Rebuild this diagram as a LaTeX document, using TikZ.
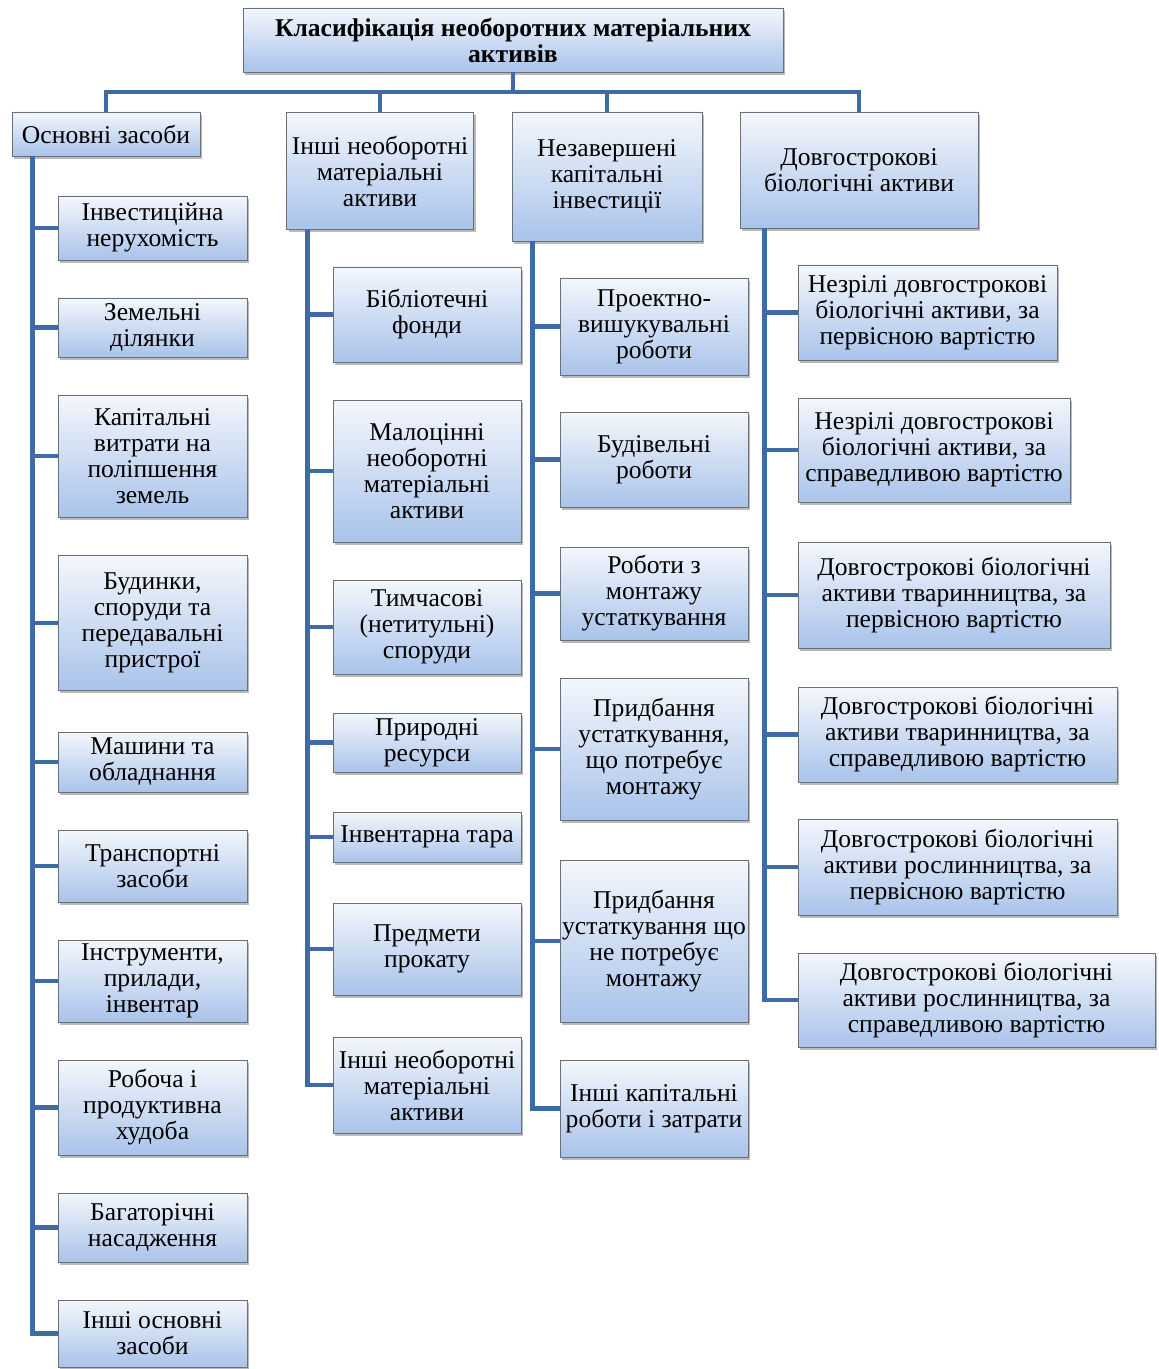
\documentclass[tikz,border=0pt]{standalone}
\usepackage{fontspec}
\setmainfont{Liberation Serif}
\usetikzlibrary{shadows}
\definecolor{linkblue}{HTML}{3E6AA6}
\definecolor{boxtop}{HTML}{F4F7FC}
\definecolor{boxbottom}{HTML}{A9C3EA}
\definecolor{boxline}{HTML}{6B6F78}

\begin{document}
\begin{tikzpicture}[
  x=0.75pt, y=-0.75pt,
  font=\fontsize{19.2}{19.5}\selectfont,
  box/.style={draw=boxline, line width=0.6pt, top color=boxtop, bottom color=boxbottom,
    align=center, inner sep=1pt,
    drop shadow={shadow xshift=1.5pt, shadow yshift=-2pt, fill=black!45, opacity=0.6}},
  boxw/.style={minimum width=#1*0.75pt},
  boxh/.style={minimum height=#1*0.75pt},
  fixitem/.style={box, boxw=189},
  matitem/.style={box, boxw=188},
  invitem/.style={box, boxw=188},
  bioitem/.style={box},
  link/.style={draw=linkblue, line width=3.6pt}
]
\useasboundingbox (0,0) rectangle (1158,1369);

% Title and the four groups.
\node[box, boxw=540, boxh=64, font=\fontsize{19.2}{19.5}\selectfont\bfseries] (title) at (513,40)
  {Класифікація необоротних матеріальних\\активів};
\node[box, boxw=188, boxh=44] (fixed) at (106,134) {Основні засоби};
\node[box, boxw=187, boxh=117] (othermat) at (380,171) {Інші необоротні\\матеріальні\\активи};
\node[box, boxw=190, boxh=129] (capinv) at (607,176.5) {Незавершені\\капітальні\\інвестиції};
\node[box, boxw=238, boxh=116] (bio) at (859,170) {Довгострокові\\біологічні активи};

\coordinate (bus) at (510,92);
\draw[link] (title.south) -- (title.south |- bus);
\draw[link] (fixed.north) |- (bus) -| (bio.north);
\draw[link] (othermat.north) -- (othermat.north |- bus);
\draw[link] (capinv.north) -- (capinv.north |- bus);

% Основні засоби
\node[fixitem, boxh=64] (fx1) at (152.5,228) {Інвестиційна\\нерухомість};
\node[fixitem, boxh=59] (fx2) at (152.5,327.5) {Земельні\\ділянки};
\node[fixitem, boxh=122] (fx3) at (152.5,456) {Капітальні\\витрати на\\поліпшення\\земель};
\node[fixitem, boxh=135] (fx4) at (152.5,623) {Будинки,\\споруди та\\передавальні\\пристрої};
\node[fixitem, boxh=60] (fx5) at (152.5,762) {Машини та\\обладнання};
\node[fixitem, boxh=72] (fx6) at (152.5,866) {Транспортні\\засоби};
\node[fixitem, boxh=82] (fx7) at (152.5,981) {Інструменти,\\прилади,\\інвентар};
\node[fixitem, boxh=95] (fx8) at (152.5,1107.5) {Робоча і\\продуктивна\\худоба};
\node[fixitem, boxh=69] (fx9) at (152.5,1227.5) {Багаторічні\\насадження};
\node[fixitem, boxh=67] (fx10) at (152.5,1333.5) {Інші основні\\засоби};
\coordinate (fixstem) at ([xshift=15.75pt]fixed.south west);
\draw[link] (fixstem) |- (fx1.west);
\draw[link] (fixstem) |- (fx2.west);
\draw[link] (fixstem) |- (fx3.west);
\draw[link] (fixstem) |- (fx4.west);
\draw[link] (fixstem) |- (fx5.west);
\draw[link] (fixstem) |- (fx6.west);
\draw[link] (fixstem) |- (fx7.west);
\draw[link] (fixstem) |- (fx8.west);
\draw[link] (fixstem) |- (fx9.west);
\draw[link] (fixstem) |- (fx10.west);

% Інші необоротні матеріальні активи
\node[matitem, boxh=95] (om1) at (427,314.5) {Бібліотечні\\фонди};
\node[matitem, boxh=142] (om2) at (427,471) {Малоцінні\\необоротні\\матеріальні\\активи};
\node[matitem, boxh=94] (om3) at (427,627) {Тимчасові\\(нетитульні)\\споруди};
\node[matitem, boxh=59] (om4) at (427,742.5) {Природні\\ресурси};
\node[matitem, boxh=50] (om5) at (427,837) {Інвентарна тара};
\node[matitem, boxh=92] (om6) at (427,949) {Предмети\\прокату};
\node[matitem, boxh=96] (om7) at (427,1085) {Інші необоротні\\матеріальні\\активи};
\coordinate (matstem) at ([xshift=15.75pt]othermat.south west);
\draw[link] (matstem) |- (om1.west);
\draw[link] (matstem) |- (om2.west);
\draw[link] (matstem) |- (om3.west);
\draw[link] (matstem) |- (om4.west);
\draw[link] (matstem) |- (om5.west);
\draw[link] (matstem) |- (om6.west);
\draw[link] (matstem) |- (om7.west);

% Незавершені капітальні інвестиції
\node[invitem, boxh=97] (ci1) at (654,326.5) {Проектно-\\вишукувальні\\роботи};
\node[invitem, boxh=95] (ci2) at (654,459.5) {Будівельні\\роботи};
\node[invitem, boxh=93] (ci3) at (654,593.5) {Роботи з\\монтажу\\устаткування};
\node[invitem, boxh=142] (ci4) at (654,749) {Придбання\\устаткування,\\що потребує\\монтажу};
\node[invitem, boxh=162] (ci5) at (654,941) {Придбання\\устаткування що\\не потребує\\монтажу};
\node[invitem, boxh=97] (ci6) at (654,1108.5) {Інші капітальні\\роботи і затрати};
\coordinate (invstem) at ([xshift=15.75pt]capinv.south west);
\draw[link] (invstem) |- (ci1.west);
\draw[link] (invstem) |- (ci2.west);
\draw[link] (invstem) |- (ci3.west);
\draw[link] (invstem) |- (ci4.west);
\draw[link] (invstem) |- (ci5.west);
\draw[link] (invstem) |- (ci6.west);

% Довгострокові біологічні активи
\node[bioitem, boxw=259, boxh=95] (bi1) at (927.5,312.5)
  {Незрілі довгострокові\\біологічні активи, за\\первісною вартістю};
\node[bioitem, boxw=272, boxh=104] (bi2) at (934,450)
  {Незрілі довгострокові\\біологічні активи, за\\справедливою вартістю};
\node[bioitem, boxw=312, boxh=106] (bi3) at (954,595)
  {Довгострокові біологічні\\активи тваринництва, за\\первісною вартістю};
\node[bioitem, boxw=319, boxh=95] (bi4) at (957.5,734.5)
  {Довгострокові біологічні\\активи тваринництва, за\\справедливою вартістю};
\node[bioitem, boxw=319, boxh=96] (bi5) at (957.5,867)
  {Довгострокові біологічні\\активи рослинництва, за\\первісною вартістю};
\node[bioitem, boxw=357, boxh=94] (bi6) at (976.5,1000)
  {Довгострокові біологічні\\активи рослинництва, за\\справедливою вартістю};
\coordinate (biostem) at ([xshift=18.75pt]bio.south west);
\draw[link] (biostem) |- (bi1.west);
\draw[link] (biostem) |- (bi2.west);
\draw[link] (biostem) |- (bi3.west);
\draw[link] (biostem) |- (bi4.west);
\draw[link] (biostem) |- (bi5.west);
\draw[link] (biostem) |- (bi6.west);
\end{tikzpicture}
\end{document}
